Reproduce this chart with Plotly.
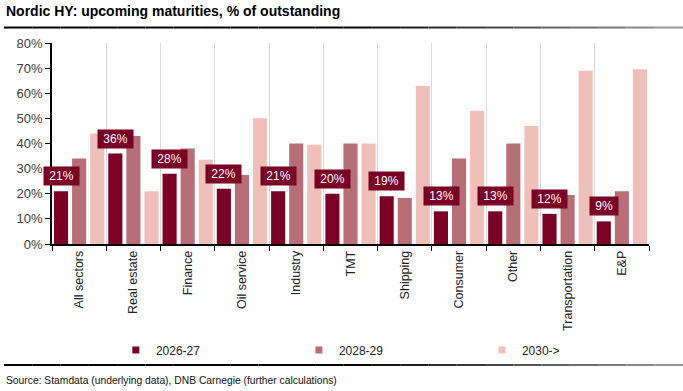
import plotly.graph_objects as go

categories = ["All sectors", "Real estate", "Finance", "Oil service", "Industry", "TMT",
              "Shipping", "Consumer", "Other", "Transportation", "E&P"]
s2026 = [21, 36, 28, 22, 21, 20, 19, 13, 13, 12, 9]
s2028 = [34, 43, 38, 27.5, 40, 40, 18.3, 34, 40, 19.5, 21]
s2030 = [44, 21, 33.5, 50, 39.5, 40, 63, 53, 47, 69, 69.6]
series_names = ["2026-27", "2028-29", "2030->"]
colors = ["#7A0026", "#B76E77", "#EFBFBA"]
y_ticks = [0, 10, 20, 30, 40, 50, 60, 70, 80]

FONT = "Liberation Sans, Arial, sans-serif"
NARROW = "Liberation Sans Narrow, Arial Narrow, Liberation Sans, sans-serif"

fig = go.Figure()
for name, vals, col in zip(series_names, [s2026, s2028, s2030], colors):
    fig.add_trace(go.Bar(x=categories, y=vals, name=name, marker_color=col,
                         marker_line_width=0, showlegend=False, hoverinfo="x+y+name"))
for name, col in zip(series_names, colors):
    fig.add_trace(go.Scatter(x=[categories[0]], y=[None], mode="markers", name=name,
                             marker=dict(symbol="square", size=7, color=col),
                             hoverinfo="skip"))

annotations = []
for c, v in zip(categories, s2026):
    annotations.append(dict(
        x=c, y=v, xref="x", yref="y", text="\u00a0" + f"{v:.0f}%" + "\u00a0",
        showarrow=False, xanchor="center", yanchor="bottom", xshift=-18, yshift=5,
        bgcolor="#7A0026", borderpad=2, font=dict(family=FONT, size=12, color="white")))

annotations.append(dict(
    x=-0.08, y=-0.677, xref="paper", yref="paper", xanchor="left", yanchor="middle",
    text="Source: Stamdata (underlying data), DNB Carnegie (further calculations)",
    showarrow=False, font=dict(family=FONT, size=10.3, color="#111")))

# gradient separator lines (title underline and footer line)
shapes = []
n = 24
x0p, x1p = -0.0804, 1.057
for yline in (1.077, -0.602):
    for i in range(n):
        t = i / (n - 1)
        g = int(0 if t < 0.5 else (t - 0.5) / 0.5 * 150)
        shapes.append(dict(type="line", xref="paper", yref="paper",
                           x0=x0p + (x1p - x0p) * i / n, x1=x0p + (x1p - x0p) * (i + 1) / n,
                           y0=yline, y1=yline,
                           line=dict(color=f"rgb({g},{g},{g})", width=2)))

fig.update_layout(
    width=683, height=391,
    margin=dict(l=52, r=34, t=43, b=147, autoexpand=False),
    paper_bgcolor="white", plot_bgcolor="white",
    barmode="group", bargap=0, bargroupgap=0.22,
    title=dict(text="<b>Nordic HY: upcoming maturities, % of outstanding</b>",
               x=6 / 683, xref="container", xanchor="left",
               y=1 - 6 / 391, yref="container", yanchor="top",
               font=dict(family=FONT, size=14, color="black")),
    font=dict(family=FONT, size=12, color="#333"),
    xaxis=dict(type="category", range=[-0.5, len(categories) - 0.5],
               tickson="boundaries", showgrid=True, gridcolor="#D9D9D9",
               gridwidth=1, showline=True, linecolor="black", linewidth=1.5,
               ticks="outside", ticklen=5, tickcolor="black", tickangle=-90,
               automargin=False,
               tickfont=dict(family=FONT, size=12.5, color="#222")),
    yaxis=dict(range=[0, 80], tickvals=y_ticks, ticktext=[f"{t}%" for t in y_ticks],
               showgrid=False, zeroline=False, showline=True, linecolor="black",
               linewidth=1.5, ticks="outside", ticklen=5, tickcolor="black",
               automargin=False,
               tickfont=dict(family=FONT, size=13, color="#404040")),
    legend=dict(orientation="h", x=0.107, xanchor="left", y=-0.527, yanchor="middle",
                entrywidth=138, entrywidthmode="pixels", itemwidth=30,
                font=dict(family=FONT, size=12, color="#222"), bgcolor="rgba(0,0,0,0)"),
    annotations=annotations,
    shapes=shapes,
)

fig.write_html("out.html", config={"displayModeBar": False},
               post_script="document.body.style.margin='0';document.body.style.overflow='hidden';")
